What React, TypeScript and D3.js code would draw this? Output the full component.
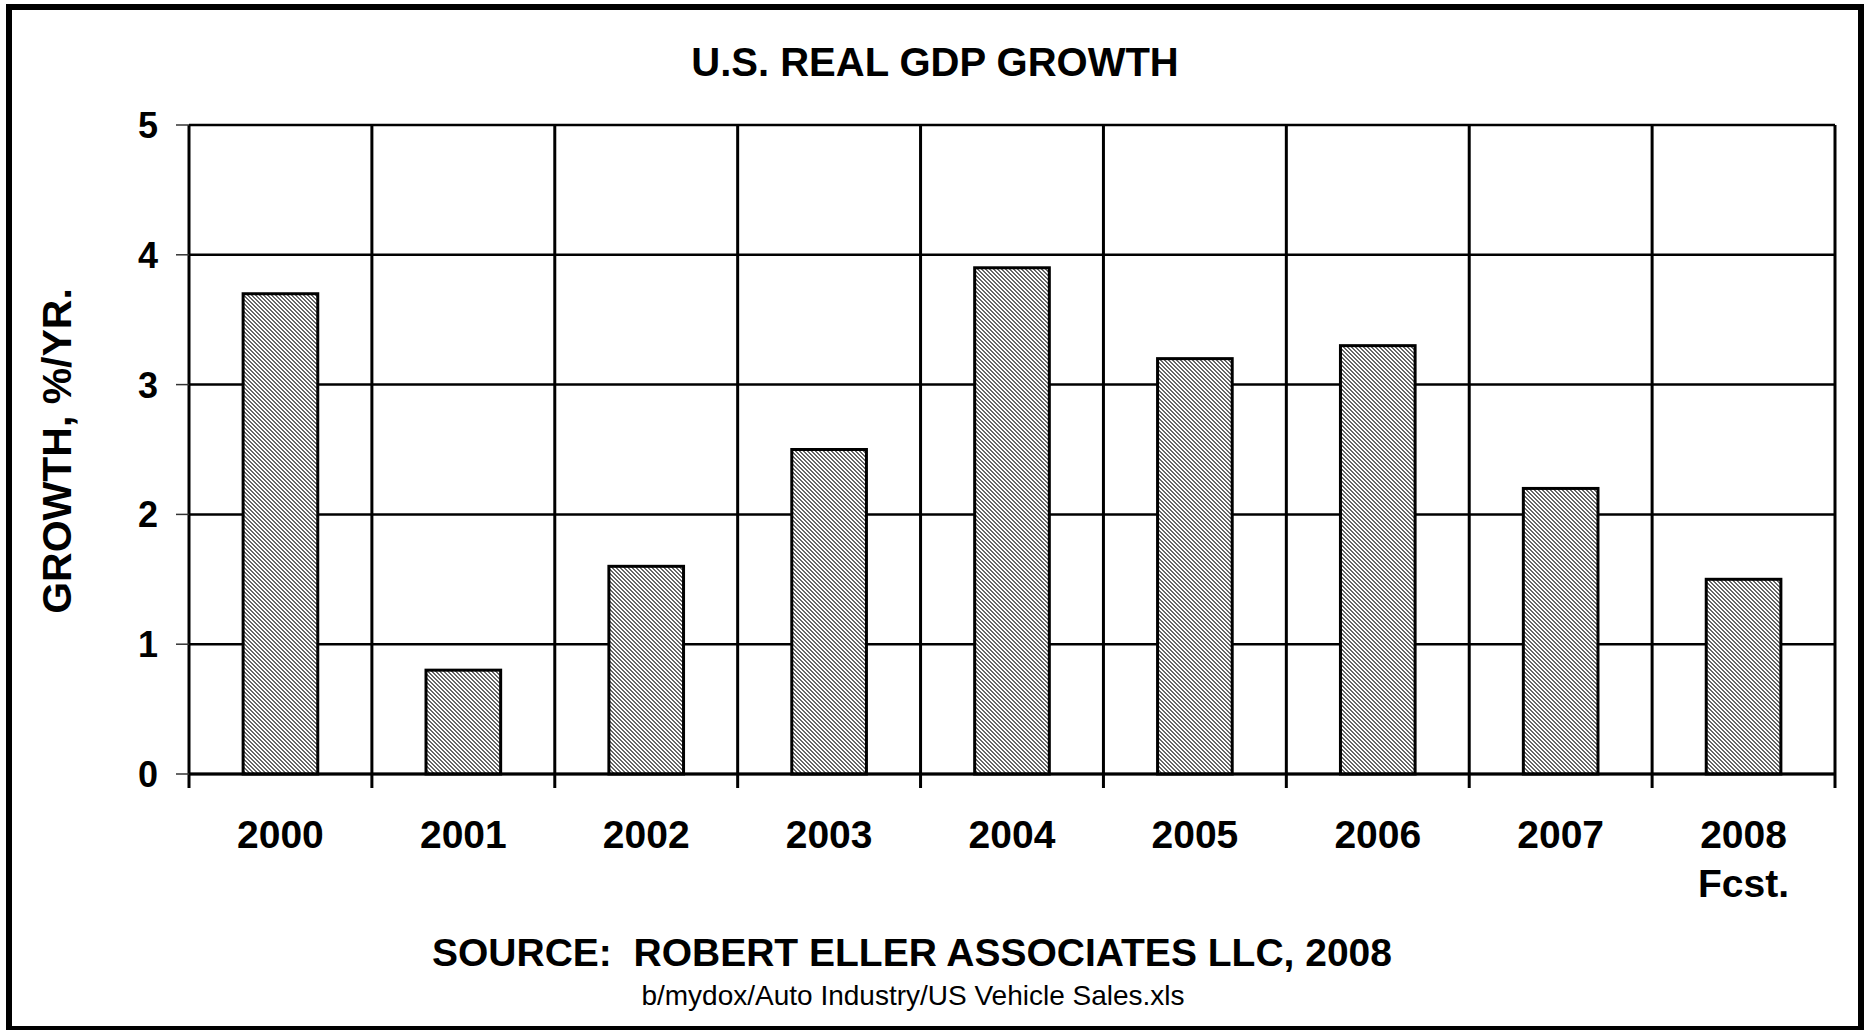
import React from "react";
import * as d3 from "d3";

const categories = ["2000", "2001", "2002", "2003", "2004", "2005", "2006", "2007", "2008"];
const subLabels = ["", "", "", "", "", "", "", "", "Fcst."];
const growth = [3.7, 0.8, 1.6, 2.5, 3.9, 3.2, 3.3, 2.2, 1.5];
const yTicks = [0, 1, 2, 3, 4, 5];

const title = "U.S. REAL GDP GROWTH";
const yTitle = "GROWTH, %/YR.";
const source = "SOURCE:  ROBERT ELLER ASSOCIATES LLC, 2008";
const fileName = "b/mydox/Auto Industry/US Vehicle Sales.xls";

const W = 1866;
const H = 1030;
const plot = { left: 189, right: 1835, top: 125, bottom: 774 };
const FONT = "'Liberation Sans', Arial, Helvetica, sans-serif";

export default function App() {
  const x = d3.scaleBand<string>().domain(categories).range([plot.left, plot.right]).padding(0);
  const y = d3.scaleLinear().domain([0, 5]).range([plot.bottom, plot.top]);
  const barW = x.bandwidth() / 2.45;
  const edges = categories.map((c) => x(c) as number).concat([plot.right]);
  const ink = "#666666";

  return (
    <svg
      width={W}
      height={H}
      viewBox={`0 0 ${W} ${H}`}
      style={{ position: "absolute", left: 0, top: 0, display: "block", background: "#fff" }}
    >
      <defs>
        <pattern id="hatch" width="4" height="4" patternUnits="userSpaceOnUse">
          <rect width="4" height="4" fill="#ffffff" />
          <rect x="0" y="0" width="2" height="1" fill={ink} />
          <rect x="1" y="1" width="2" height="1" fill={ink} />
          <rect x="2" y="2" width="2" height="1" fill={ink} />
          <rect x="3" y="3" width="1" height="1" fill={ink} />
          <rect x="0" y="3" width="1" height="1" fill={ink} />
        </pattern>
      </defs>
      <rect x={0} y={0} width={W} height={H} fill="#fff" />
      {/* outer frame */}
      <rect x={9} y={7} width={1852} height={1022} fill="none" stroke="#000" strokeWidth={6} />

      {/* title */}
      <text x={935} y={76} textAnchor="middle" fontFamily={FONT} fontWeight="bold" fontSize={40}>
        {title}
      </text>

      {/* horizontal gridlines */}
      {yTicks.map((t) => (
        <line key={"g" + t} x1={plot.left} x2={plot.right} y1={y(t)} y2={y(t)} stroke="#000" strokeWidth={2.5} />
      ))}
      {/* vertical category lines */}
      {edges.map((e, i) => (
        <line key={"v" + i} x1={e} x2={e} y1={plot.top} y2={plot.bottom + 14} stroke="#000" strokeWidth={3} />
      ))}
      {/* y ticks */}
      {yTicks.map((t) => (
        <line key={"yt" + t} x1={plot.left - 13} x2={plot.left} y1={y(t)} y2={y(t)} stroke="#333" strokeWidth={1.5} />
      ))}
      {yTicks.map((t) => (
        <text
          key={"yl" + t}
          x={158}
          y={y(t) + 13}
          textAnchor="end"
          fontFamily={FONT}
          fontWeight="bold"
          fontSize={36}
        >
          {t}
        </text>
      ))}

      {/* bars */}
      {categories.map((c, i) => {
        const cx = (x(c) as number) + x.bandwidth() / 2;
        return (
          <rect
            key={"b" + c}
            x={cx - barW / 2}
            y={y(growth[i])}
            width={barW}
            height={y(0) - y(growth[i])}
            fill="url(#hatch)"
            stroke="#000"
            strokeWidth={3}
          />
        );
      })}
      {/* axis line on top */}
      <line x1={plot.left} x2={plot.right} y1={y(0)} y2={y(0)} stroke="#000" strokeWidth={3} />

      {/* x labels */}
      {categories.map((c, i) => {
        const cx = (x(c) as number) + x.bandwidth() / 2;
        return (
          <g key={"xl" + c}>
            <text x={cx} y={848} textAnchor="middle" fontFamily={FONT} fontWeight="bold" fontSize={39}>
              {c}
            </text>
            {subLabels[i] && (
              <text x={cx} y={897} textAnchor="middle" fontFamily={FONT} fontWeight="bold" fontSize={39}>
                {subLabels[i]}
              </text>
            )}
          </g>
        );
      })}

      {/* y title */}
      <text
        transform={`translate(71, 451) rotate(-90)`}
        textAnchor="middle"
        fontFamily={FONT}
        fontWeight="bold"
        fontSize={41}
      >
        {yTitle}
      </text>

      {/* source */}
      <text x={912} y={966} textAnchor="middle" fontFamily={FONT} fontWeight="bold" fontSize={39} xmlSpace="preserve">
        {source}
      </text>
      <text x={913} y={1005} textAnchor="middle" fontFamily={FONT} fontSize={28}>
        {fileName}
      </text>
    </svg>
  );
}
